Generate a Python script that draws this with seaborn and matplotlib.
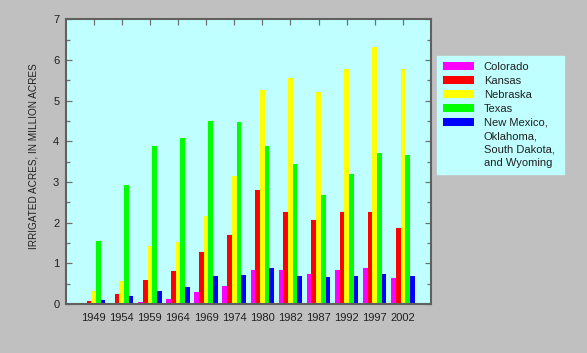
import matplotlib
matplotlib.use("Agg")
import matplotlib.pyplot as plt
import seaborn as sns
import pandas as pd
from matplotlib.ticker import MultipleLocator

years = ["1949", "1954", "1959", "1964", "1969", "1974", "1980", "1982", "1987", "1992", "1997", "2002"]
states = ["Colorado", "Kansas", "Nebraska", "Texas",
          "New Mexico,\nOklahoma,\nSouth Dakota,\nand Wyoming"]
colorado = [0.02, 0.03, 0.06, 0.13, 0.29, 0.45, 0.84, 0.84, 0.75, 0.84, 0.89, 0.65]
kansas = [0.08, 0.25, 0.60, 0.80, 1.27, 1.70, 2.81, 2.27, 2.06, 2.27, 2.27, 1.88]
nebraska = [0.31, 0.57, 1.42, 1.53, 2.17, 3.16, 5.27, 5.57, 5.21, 5.79, 6.33, 5.78]
texas = [1.56, 2.92, 3.89, 4.09, 4.51, 4.48, 3.88, 3.44, 2.67, 3.20, 3.72, 3.67]
others = [0.11, 0.20, 0.33, 0.43, 0.69, 0.72, 0.89, 0.70, 0.66, 0.70, 0.73, 0.70]
colors = ["#FF00FF", "#FF0000", "#FFFF00", "#00FF00", "#0000FF"]

series = [colorado, kansas, nebraska, texas, others]
rows = []
for st, vals in zip(states, series):
    for y, v in zip(years, vals):
        rows.append({"year": y, "state": st, "value": v})
df = pd.DataFrame(rows)

sns.set_theme(style="white")
plt.rcParams["font.family"] = ["Liberation Sans", "DejaVu Sans"]

DPI = 100
fig = plt.figure(figsize=(5.87, 3.53), dpi=DPI, facecolor="#C0C0C0")
ax = fig.add_axes([0.1116, 0.1388, 0.6226, 0.806])
ax.set_facecolor("#C0FFFF")

sns.barplot(data=df, x="year", y="value", hue="state", order=years,
            hue_order=states, palette=colors, saturation=1, width=0.833,
            ax=ax, errorbar=None, linewidth=0, zorder=2)

ax.set_xlim(-1, 12)
ax.set_ylim(0, 7)
ax.yaxis.set_major_locator(MultipleLocator(1))
ax.yaxis.set_minor_locator(MultipleLocator(0.5))
ax.set_xlabel("")
ax.set_ylabel("IRRIGATED ACRES, IN MILLION ACRES", fontsize=7.2, color="#202020")
ax.yaxis.set_label_coords(-0.074, 0.52)
ax.tick_params(axis="both", which="both", direction="in", top=True, right=True,
               bottom=True, left=True, color="#707070", width=0.9, labelsize=8,
               labelcolor="#202020", zorder=5)
ax.tick_params(axis="both", which="major", length=4)
ax.tick_params(axis="y", which="minor", length=3)
ax.tick_params(axis="y", which="major", pad=4.5)
ax.tick_params(axis="x", which="major", pad=6.5)
for sp in ax.spines.values():
    sp.set_color("#606060")
    sp.set_linewidth(1.5)
    sp.set_zorder(6)

x0 = 437 / 587
w = (564 - 437) / 587
ytop = 1 - 55.7 / 353
leg = ax.legend(loc="upper left", bbox_to_anchor=(x0, ytop - 0.4, w, 0.4),
                bbox_transform=fig.transFigure, mode="expand", frameon=True,
                fontsize=8, handlelength=2.75, handleheight=0.7,
                handletextpad=0.9, labelspacing=0.36, borderpad=0.55,
                borderaxespad=0, fancybox=False)
leg.get_frame().set_facecolor("#C0FFFF")
leg.get_frame().set_edgecolor("#C0FFFF")
leg.get_frame().set_alpha(1)
for t in leg.get_texts():
    t.set_color("#202020")
    t.set_linespacing(1.42)

# align the handle of the multi-line entry with its first line
fig.canvas.draw()
r = fig.canvas.get_renderer()
handles = leg.legend_handles
texts = leg.get_texts()
ref_t = texts[0].get_window_extent(r)
ref_h = handles[0].get_window_extent(r)
off = (ref_h.y0 + ref_h.y1) / 2 - ref_t.y1  # handle center relative to text top
tb = texts[-1].get_window_extent(r)
hb = handles[-1].get_window_extent(r)
target_center = tb.y1 + off
delta_px = target_center - (hb.y0 + hb.y1) / 2
handles[-1].set_y(handles[-1].get_y() + delta_px * 72 / DPI)

fig.savefig("out.png", dpi=DPI, facecolor=fig.get_facecolor())
